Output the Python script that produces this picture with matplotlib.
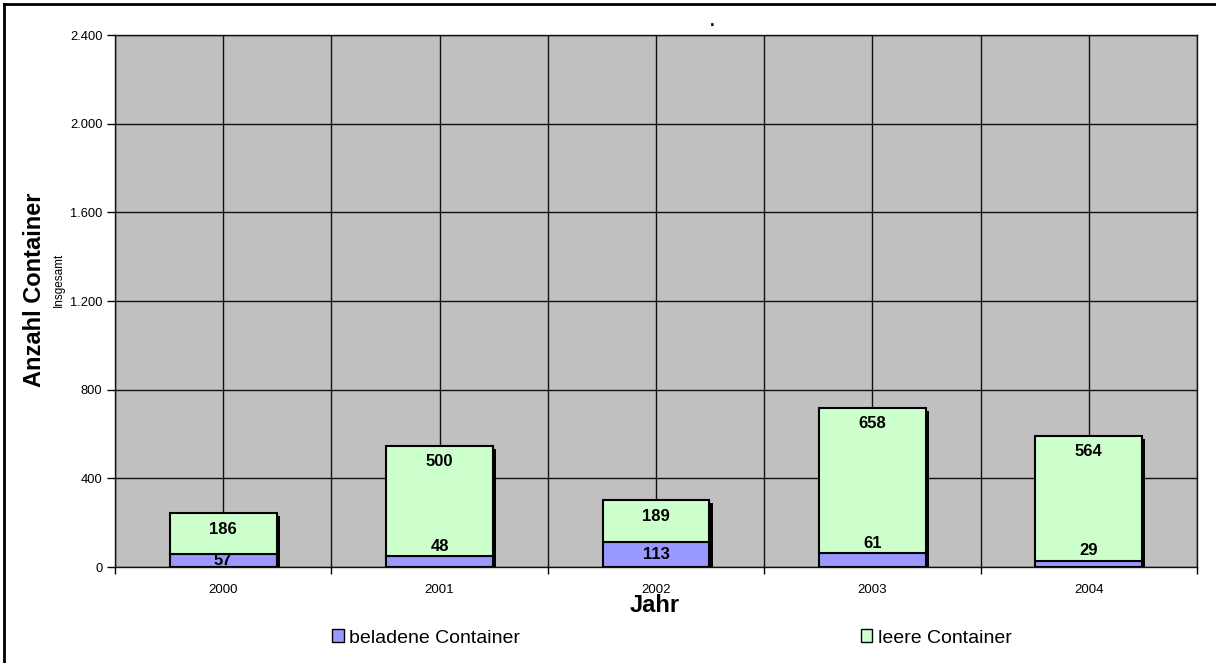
import matplotlib.pyplot as plt
from matplotlib.patches import Patch
from matplotlib.lines import Line2D
import matplotlib.patheffects as pe

# data
years = ['2000', '2001', '2002', '2003', '2004']
beladen = [57, 48, 113, 61, 29]
leer = [186, 500, 189, 658, 564]
y_ticks = [0, 400, 800, 1200, 1600, 2000, 2400]
y_ticklabels = ['0', '400', '800', '1.200', '1.600', '2.000', '2.400']
# where the label of the lower segment sits: centred or just above
low_pos = ['mid', 'above', 'mid', 'above', 'above']

BLUE = '#9999FF'
GREEN = '#CCFFCC'
GRAY = '#C0C0C0'

plt.rcParams['font.family'] = ['Liberation Sans', 'DejaVu Sans']

W, H = 1216, 663
fig = plt.figure(figsize=(W / 100, H / 100), dpi=100)
ax = fig.add_axes([115 / W, 1 - 567 / H, (1197 - 115) / W, (567 - 35) / H])
ax.set_facecolor(GRAY)

x = list(range(len(years)))
totals = [a + b for a, b in zip(beladen, leer)]
bw = 0.494

# shadow bars behind the stack
shadow = ax.bar(x, totals, bw, color='black', zorder=2)
for p in shadow:
    p.set_path_effects([pe.SimplePatchShadow(offset=(2.3, -2.3), shadow_rgbFace='black', alpha=1.0), pe.Normal()])

ax.bar(x, beladen, bw, color=BLUE, edgecolor='black', lw=1.5, zorder=3)
ax.bar(x, leer, bw, bottom=beladen, color=GREEN, edgecolor='black', lw=1.5, zorder=3)

ax.set_xlim(-0.5, len(years) - 0.5)
ax.set_ylim(0, 2400)
ax.set_yticks(y_ticks)
ax.set_yticklabels(y_ticklabels, fontsize=9.3)
ax.set_xticks(x)
ax.set_xticklabels(years, fontsize=9.5)
ax.set_xticks([i - 0.5 for i in range(len(years) + 1)], minor=True)
ax.tick_params(axis='x', which='major', length=0, pad=12)
ax.tick_params(axis='x', which='minor', length=5, width=1, direction='out')
ax.tick_params(axis='y', length=6, width=1, direction='out', pad=3)

ax.set_axisbelow(True)
ax.yaxis.grid(True, color='#111111', lw=1)
ax.xaxis.grid(True, which='both', color='#111111', lw=1)
for s in ax.spines.values():
    s.set_color('#111111')
    s.set_linewidth(1)

# value labels
for i in x:
    top = totals[i]
    ax.annotate(str(leer[i]), (i, top), xytext=(0, -16), textcoords='offset pixels',
                ha='center', va='center', fontsize=12, fontweight='bold', zorder=5)
    if low_pos[i] == 'mid':
        ax.annotate(str(beladen[i]), (i, beladen[i] / 2), ha='center', va='center',
                    fontsize=12, fontweight='bold', zorder=5)
    else:
        ax.annotate(str(beladen[i]), (i, beladen[i]), xytext=(0, 10), textcoords='offset pixels',
                    ha='center', va='center', fontsize=12, fontweight='bold', zorder=5)

# axis titles
fig.text(35 / W, 1 - 290 / H, 'Anzahl Container', rotation=90, ha='center', va='center',
         fontsize=17, fontweight='bold')
fig.text(59 / W, 1 - 280 / H, 'Insgesamt', rotation=90, ha='center', va='center', fontsize=8.5)
fig.text(655 / W, 1 - 606 / H, 'Jahr', ha='center', va='center', fontsize=17, fontweight='bold')
fig.text(712 / W, 1 - 22 / H, '.', ha='center', va='center', fontsize=12, fontweight='bold')

# legend
handles = [Patch(facecolor=BLUE, edgecolor='black', lw=1), Patch(facecolor=GREEN, edgecolor='black', lw=1)]
fig.legend(handles, ['beladene Container', 'leere Container'], loc='center',
           bbox_to_anchor=(672 / W, 1 - 638 / H), ncol=2, frameon=False, fontsize=14,
           handlelength=0.6, handleheight=0.6, handletextpad=0.3, columnspacing=17.5,
           borderaxespad=0, borderpad=0)

# outer frame (top and left edge visible)
fig.add_artist(Line2D([4 / W, 4 / W], [0, 1 - 4 / H], color='black', lw=2, transform=fig.transFigure))
fig.add_artist(Line2D([4 / W, 1], [1 - 4 / H, 1 - 4 / H], color='black', lw=2, transform=fig.transFigure))

fig.savefig('out.png', dpi=100)
